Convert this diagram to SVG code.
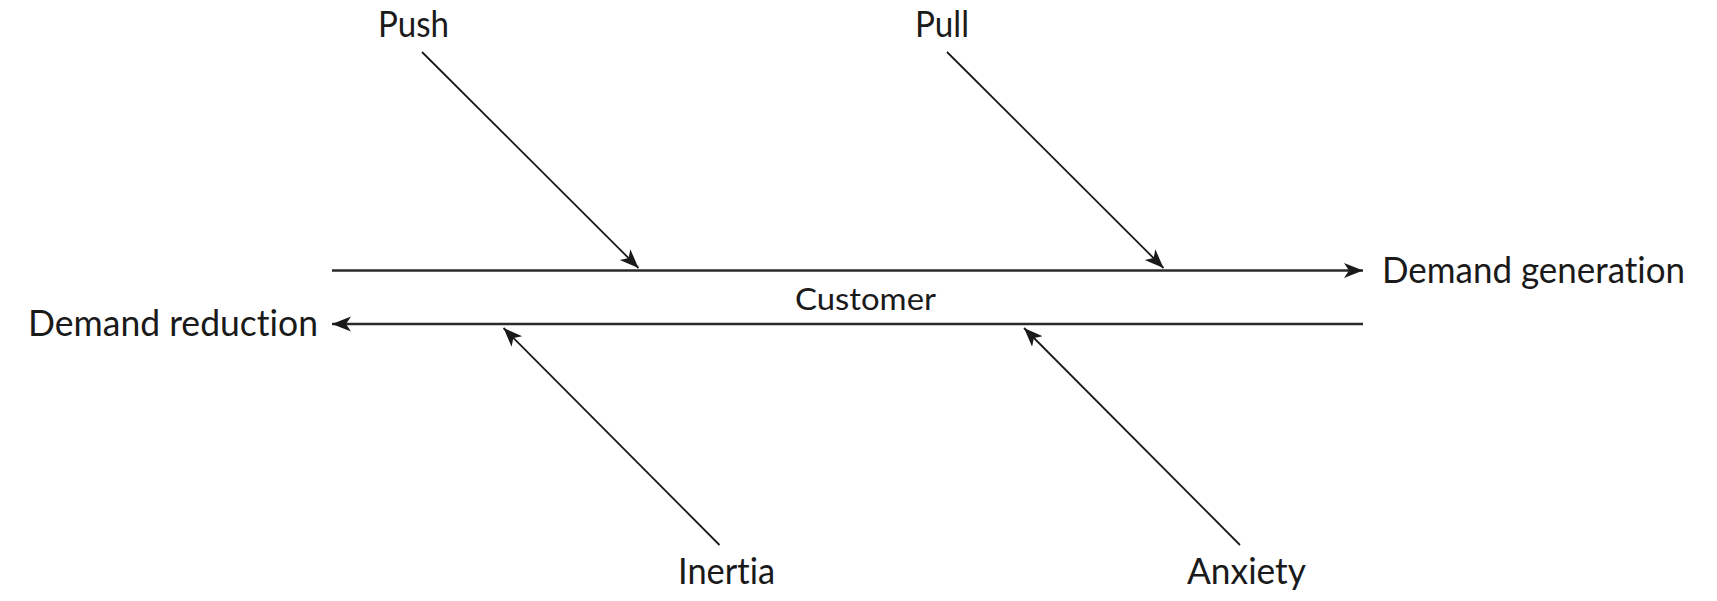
<svg xmlns="http://www.w3.org/2000/svg" width="1717" height="601" viewBox="0 0 1717 601">
<style>
.lbl{font-family:Lato,"Open Sans","Liberation Sans",sans-serif;fill:#1a1a1a;font-size:36px;font-variant-ligatures:none;font-feature-settings:"liga" 0,"clig" 0}
.sm{font-size:31px}
.axis{stroke:#2a2a2a;stroke-width:2.4;fill:none}
.bone{stroke:#1a1a1a;stroke-width:1.8;fill:none}
</style>
<defs>
<marker id="ah" markerUnits="userSpaceOnUse" markerWidth="22" markerHeight="18" refX="19" refY="7.5" orient="auto">
<path d="M0,0 L19,7.5 L0,15 L5,7.5 z" fill="#1a1a1a"/>
</marker>
</defs>
<g id="connectors">
<line class="axis" x1="332" y1="270.5" x2="1363" y2="270.5" marker-end="url(#ah)"/>
<line class="axis" x1="1363" y1="324" x2="332" y2="324" marker-end="url(#ah)"/>
<line class="bone" x1="422" y1="52" x2="638.5" y2="268" marker-end="url(#ah)"/>
<line class="bone" x1="947" y1="52" x2="1163.5" y2="268" marker-end="url(#ah)"/>
<line class="bone" x1="719.5" y1="545" x2="503.5" y2="328" marker-end="url(#ah)"/>
<line class="bone" x1="1240" y1="545" x2="1024" y2="328" marker-end="url(#ah)"/>
</g>
<g id="push"><text class="lbl" x="378" y="36.5" textLength="71" lengthAdjust="spacingAndGlyphs">Push</text></g>
<g id="pull"><text class="lbl" x="915" y="36.5" textLength="54" lengthAdjust="spacingAndGlyphs">Pull</text></g>
<g id="demand-generation"><text class="lbl" x="1382" y="283" textLength="303" lengthAdjust="spacingAndGlyphs">Demand generation</text></g>
<g id="demand-reduction"><text class="lbl" x="28" y="335.5" textLength="290" lengthAdjust="spacingAndGlyphs">Demand reduction</text></g>
<g id="customer"><text class="lbl sm" x="795" y="310" textLength="141" lengthAdjust="spacingAndGlyphs">Customer</text></g>
<g id="inertia"><text class="lbl" x="678" y="583.5" textLength="97" lengthAdjust="spacingAndGlyphs">Inertia</text></g>
<g id="anxiety"><text class="lbl" x="1187" y="583.5" textLength="119" lengthAdjust="spacingAndGlyphs">Anxiety</text></g>
</svg>
